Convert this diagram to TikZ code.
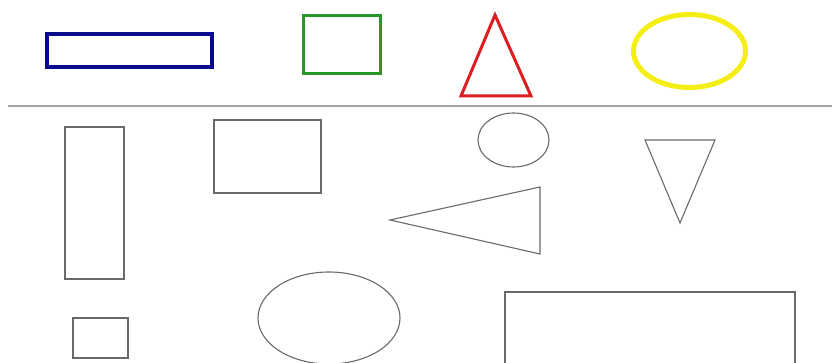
\documentclass[tikz,border=0pt]{standalone}
\usepackage{tikz}
\usetikzlibrary{positioning,shapes.geometric}
\definecolor{azul}{RGB}{10, 10, 140}
\definecolor{verde}{RGB}{40, 150, 40}
\definecolor{rojo}{RGB}{220, 30, 35}
\definecolor{amarillo}{RGB}{245, 238, 20}
\definecolor{gris}{RGB}{165, 165, 165}
\definecolor{trazo}{RGB}{105, 105, 105}

\begin{document}
\begin{tikzpicture}[
    x=1pt, y=-1pt,
    figure/.style={inner sep=0pt, outer sep=0pt},
    colored/.style={figure, line width=3pt},
    outline/.style={figure, draw=trazo, line width=1.1pt},
    line join=miter
  ]
    \useasboundingbox (0,0) rectangle (832,363);
    \clip (0,0) rectangle (832,363);

    % colored models
    \node[colored, draw=azul, line width=4pt, rectangle,
      minimum width=165pt, minimum height=33pt] (bar) at (129.5,50.5) {};
    \node[colored, draw=verde, rectangle,
      minimum width=77pt, minimum height=58pt] (square) at (342,44.5) {};
    \coordinate (apex) at (495,15);
    \coordinate (baseL) at (461,96);
    \coordinate (baseR) at (531,96);
    \draw[rojo, line width=3pt] (apex) -- (baseL) -- (baseR) -- cycle;
    \node[colored, draw=amarillo, line width=5pt, ellipse,
      minimum width=112pt, minimum height=73pt] (oval) at (689.5,51) {};

    % separator
    \coordinate (sepL) at (8,106);
    \coordinate (sepR) at (832,106);
    \draw[gris, line width=2pt] (sepL) -- (sepR);

    % shapes to sort
    \node[outline, rectangle, minimum width=59pt, minimum height=152pt] (tall) at (94.5,203) {};
    \node[outline, rectangle, minimum width=107pt, minimum height=73pt] (box) at (267.5,156.5) {};
    \node[outline, rectangle, minimum width=55pt, minimum height=40pt] (small) at (100.5,338) {};
    \node[outline, ellipse, minimum width=142pt, minimum height=92pt] (egg) at (329,318) {};
    \node[outline, ellipse, minimum width=71pt, minimum height=54pt] (dot) at (513.5,140) {};
    \node[outline, rectangle, minimum width=290pt, minimum height=90pt] (wide) at (650,337) {};

    \coordinate (tip) at (390,220);
    \coordinate (tipU) at (540,187);
    \coordinate (tipD) at (540,254);
    \draw[trazo, line width=1.1pt] (tip) -- (tipU) -- (tipD) -- cycle;

    \coordinate (downL) at (645,140);
    \coordinate (downR) at (715,140);
    \coordinate (downB) at (680,223);
    \draw[trazo, line width=1.1pt] (downL) -- (downR) -- (downB) -- cycle;
  \end{tikzpicture}
\end{document}
